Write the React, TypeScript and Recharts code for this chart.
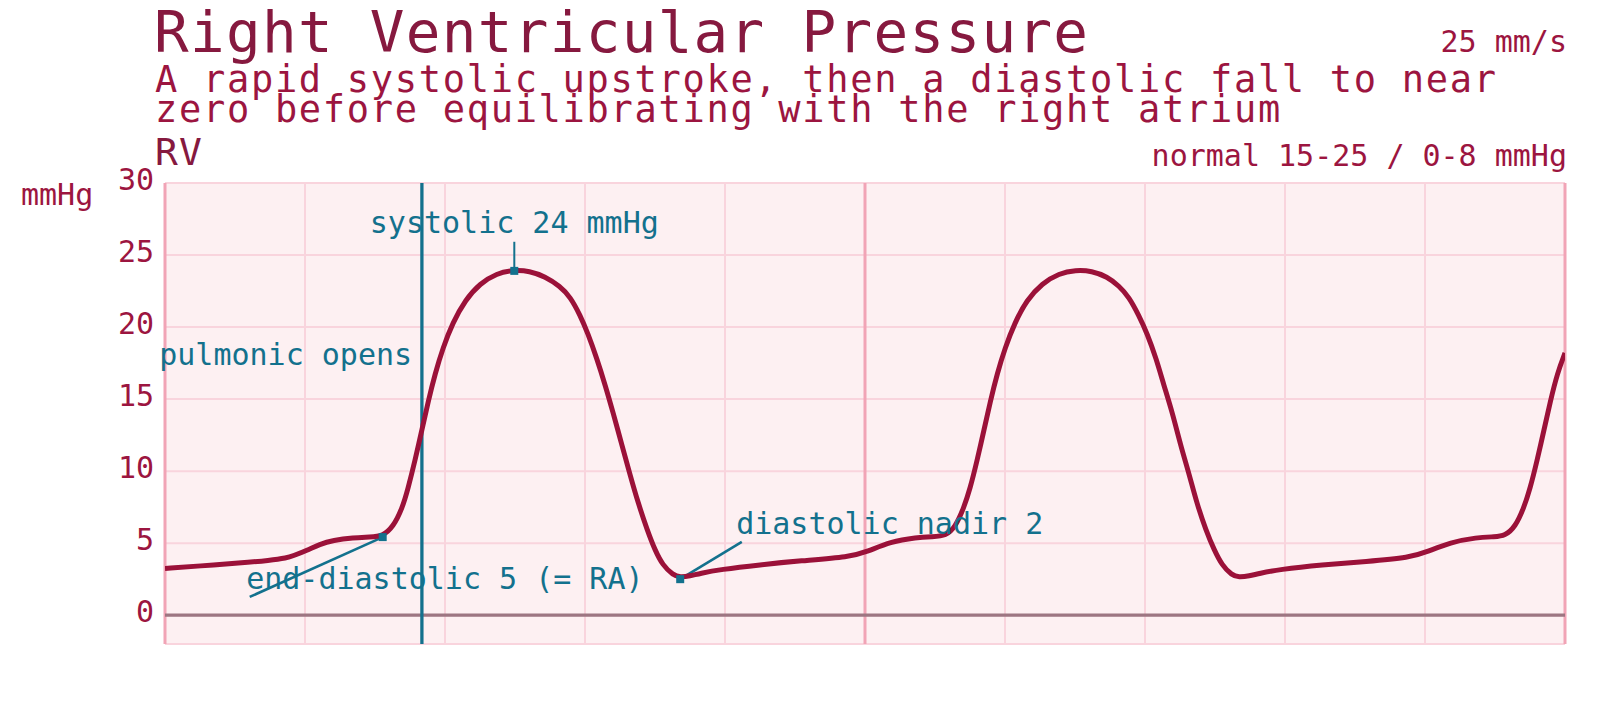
import React from 'react';
import { LineChart, Line, XAxis, YAxis, CartesianGrid, ReferenceLine, ReferenceDot } from 'recharts';

// ---- data ----
const timeS = [
  0.0, 0.05, 0.107, 0.15, 0.174, 0.183, 0.203, 0.221, 0.24, 0.269,
  0.293, 0.311, 0.326, 0.339, 0.347, 0.357, 0.367, 0.376, 0.386, 0.397,
  0.411, 0.429, 0.45, 0.474, 0.497, 0.521, 0.543, 0.564, 0.579, 0.593,
  0.604, 0.617, 0.629, 0.64, 0.653, 0.664, 0.676, 0.689, 0.7, 0.711,
  0.726, 0.736, 0.75, 0.764, 0.793, 0.85, 0.907, 0.979, 1.003, 1.036,
  1.074, 1.096, 1.116, 1.129, 1.141, 1.15, 1.16, 1.17, 1.179, 1.189,
  1.2, 1.214, 1.231, 1.253, 1.277, 1.301, 1.324, 1.346, 1.363, 1.377,
  1.391, 1.403, 1.416, 1.427, 1.439, 1.451, 1.463, 1.474, 1.487, 1.499,
  1.51, 1.524, 1.534, 1.549, 1.563, 1.591, 1.653, 1.716, 1.779, 1.803,
  1.836, 1.874, 1.9, 1.914, 1.929, 1.941, 1.95, 1.96, 1.97, 1.979,
  1.989, 2.0,
];
const pressureMmHg = [
  3.24, 3.42, 3.62, 3.8, 3.97, 4.12, 4.5, 4.93, 5.2, 5.38,
  5.42, 5.49, 6.13, 7.43, 8.76, 10.7, 12.86, 14.84, 16.79, 18.55,
  20.3, 21.88, 23.03, 23.73, 23.96, 23.9, 23.5, 22.85, 22.1, 20.83,
  19.57, 17.81, 15.95, 14.08, 11.77, 9.81, 7.77, 5.9, 4.51, 3.47,
  2.78, 2.62, 2.72, 2.9, 3.17, 3.5, 3.77, 4.05, 4.4, 5.1,
  5.4, 5.45, 5.5, 6.13, 7.43, 8.76, 10.7, 12.86, 14.84, 16.79,
  18.55, 20.3, 21.88, 23.03, 23.73, 23.96, 23.9, 23.5, 22.85, 22.1,
  20.83, 19.57, 17.81, 15.95, 14.08, 11.77, 9.81, 7.77, 5.9, 4.51,
  3.47, 2.78, 2.62, 2.72, 2.9, 3.17, 3.5, 3.72, 4.0, 4.4,
  5.05, 5.4, 5.44, 5.5, 6.13, 7.43, 8.76, 10.7, 12.86, 14.84,
  16.79, 18.2,
];
const xTicks = [0, 0.2, 0.4, 0.6, 0.8, 1.0, 1.2, 1.4, 1.6, 1.8, 2.0];
const xBorders = [0, 2.0];
const xMajor = [1.0];
const yTicks = [0, 5, 10, 15, 20, 25, 30];
const yDomain = [-2, 30];
const xDomain = [0, 2.0];

const pulmonicOpensT = 0.367;

// markers: systolic peak, end-diastolic, diastolic nadir
const markerT = [0.499, 0.311, 0.736];
const markerV = [23.9, 5.42, 2.5];

// connector start points (label side), in the same order as the markers
const connectorFrom = [
  { x: 0.499, y: 25.92 },
  { x: 0.121, y: 1.27 },
  { x: 0.824, y: 5.09 },
];

const annotationText = ['systolic 24 mmHg', 'pulmonic opens', 'end-diastolic 5 (= RA)', 'diastolic nadir 2'];
const annotationT = [0.499, 0.353, 0.116, 0.816];
const annotationV = [26.53, 17.36, 1.85, 5.67];
const annotationAnchor = ['middle', 'end', 'start', 'start'];

const titleText = 'Right Ventricular Pressure';
const subtitleLines = [
  'A rapid systolic upstroke, then a diastolic fall to near',
  'zero before equilibrating with the right atrium',
];
const leadText = 'RV';
const speedText = '25 mm/s';
const normalText = 'normal 15-25 / 0-8 mmHg';
const unitText = 'mmHg';

const data = timeS.map((t, i) => ({ t, v: pressureMmHg[i] }));

// ---- style ----
const FONT = '"DejaVu Sans Mono", "Liberation Mono", monospace';
const BG = '#fdf0f2';
const GRID = '#f9d4dd';
const MAJOR = '#f1a4b6';
const ZERO = '#9d7682';
const CURVE = '#9b1139';
const TEAL = '#13718d';
const TITLE = '#86193f';
const TEXT = '#9c1540';

const W = 1592;
const H = 694;

const YTick = (props: any) => {
  const { x, y, payload } = props;
  return (
    <text x={x - 11} y={y + 7} textAnchor="end" fill={TEXT} fontSize={30} fontFamily={FONT}>
      {payload.value}
    </text>
  );
};

const makeLabel = (text: string, anchor: string) => (props: any) => {
  const vb = props.viewBox || {};
  const x = (vb.x ?? 0) + (vb.width ?? 0) / 2;
  const y = (vb.y ?? 0) + (vb.height ?? 0) / 2;
  return (
    <text x={x} y={y} textAnchor={anchor as any} fill={TEAL} fontSize={30} fontFamily={FONT}>
      {text}
    </text>
  );
};

const SquareMarker = (props: any) => {
  const { cx, cy } = props;
  return <rect x={cx - 4} y={cy - 4} width={8} height={8} fill={TEAL} />;
};

export default function App() {
  return (
    <div style={{ position: 'relative', width: W, height: H, fontFamily: FONT }}>
      <LineChart width={W} height={H} data={data} margin={{ top: 175, right: 35, bottom: 58, left: 0 }}>
        <CartesianGrid stroke={GRID} strokeWidth={2} fill={BG} fillOpacity={1} />
        <XAxis type="number" dataKey="t" domain={xDomain} ticks={xTicks} allowDataOverflow hide />
        <YAxis
          type="number"
          domain={yDomain}
          ticks={yTicks}
          allowDataOverflow
          width={157}
          tickLine={false}
          axisLine={false}
          tickSize={0}
          tickMargin={0}
          tick={<YTick />}
          interval={0}
        />
        {xBorders.map((x) => (
          <ReferenceLine key={'b' + x} x={x} stroke={MAJOR} strokeWidth={3} />
        ))}
        {xMajor.map((x) => (
          <ReferenceLine key={'m' + x} x={x} stroke={MAJOR} strokeWidth={3} />
        ))}
        <ReferenceLine y={0} stroke={ZERO} strokeWidth={3.3} />
        <ReferenceLine x={pulmonicOpensT} stroke={TEAL} strokeWidth={3.3} />
        {connectorFrom.map((p, i) => (
          <ReferenceLine
            key={'c' + i}
            segment={[p, { x: markerT[i], y: markerV[i] }]}
            stroke={TEAL}
            strokeWidth={i === 0 ? 2 : 2.6}
          />
        ))}
        {markerT.map((t, i) => (
          <ReferenceDot key={'d' + i} x={t} y={markerV[i]} r={4} shape={<SquareMarker />} />
        ))}
        <Line
          type="basis"
          dataKey="v"
          stroke={CURVE}
          strokeWidth={5}
          dot={false}
          activeDot={false}
          isAnimationActive={false}
        />
        {annotationText.map((txt, i) => (
          <ReferenceDot
            key={'a' + i}
            x={annotationT[i]}
            y={annotationV[i]}
            r={0}
            fill="none"
            stroke="none"
            label={makeLabel(txt, annotationAnchor[i])}
          />
        ))}
      </LineChart>
      <svg
        width={W}
        height={H}
        style={{ position: 'absolute', left: 0, top: 0, pointerEvents: 'none' }}
      >
        <text x={146} y={44} fontSize={57.6} letterSpacing={1.3} fill={TITLE} fontFamily={FONT}>{titleText}</text>
        {subtitleLines.map((s, i) => (
          <text key={i} x={147} y={84 + i * 29.7} fontSize={37} letterSpacing={1.7} fill={TEXT} fontFamily={FONT}>{s}</text>
        ))}
        <text x={147} y={157} fontSize={38} letterSpacing={1.2} fill={TITLE} fontFamily={FONT}>{leadText}</text>
        <text x={1559} y={44} fontSize={30} fill={TEXT} fontFamily={FONT} textAnchor="end">{speedText}</text>
        <text x={1559} y={158} fontSize={30} fill={TEXT} fontFamily={FONT} textAnchor="end">{normalText}</text>
        <text x={13} y={197} fontSize={30} fill={TEXT} fontFamily={FONT}>{unitText}</text>
      </svg>
    </div>
  );
}
